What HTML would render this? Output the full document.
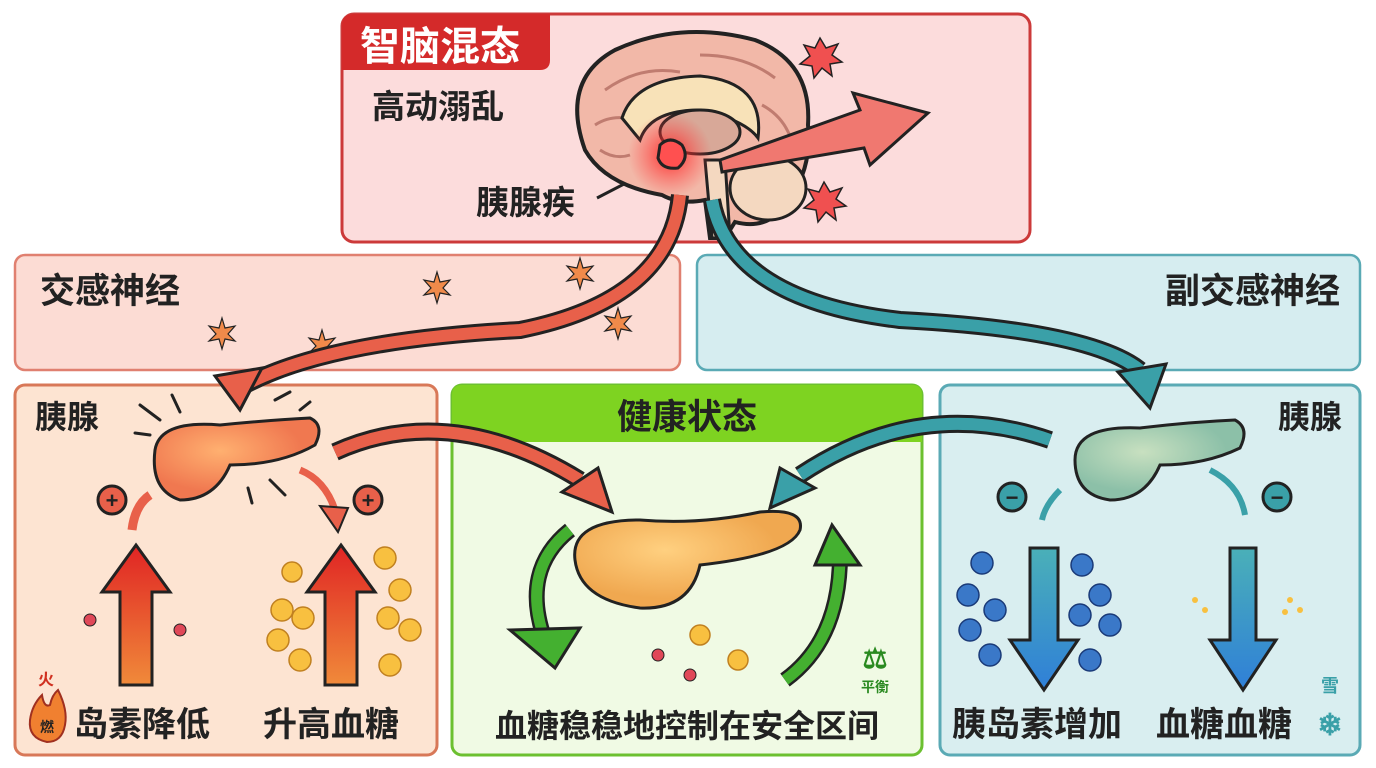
<!DOCTYPE html>
<html><head><meta charset="utf-8"><style>
html,body{margin:0;padding:0;background:#fff;}
svg{display:block;}
text{font-family:"Liberation Sans","Noto Sans CJK SC",sans-serif;font-weight:bold;}
</style></head><body>
<svg width="1376" height="768" viewBox="0 0 1376 768" xmlns="http://www.w3.org/2000/svg">
<defs>
<linearGradient id="upr" x1="0" y1="0" x2="0" y2="1"><stop offset="0" stop-color="#e02424"/><stop offset="1" stop-color="#f08a3a"/></linearGradient>
<linearGradient id="dnb" x1="0" y1="0" x2="0" y2="1"><stop offset="0" stop-color="#4ab0b8"/><stop offset="1" stop-color="#2f7fd8"/></linearGradient>
<radialGradient id="glow"><stop offset="0" stop-color="#ff2020" stop-opacity="0.9"/><stop offset="1" stop-color="#ff4040" stop-opacity="0"/></radialGradient>
<radialGradient id="pan1" cx="0.4" cy="0.4"><stop offset="0" stop-color="#ffb070"/><stop offset="1" stop-color="#f07850"/></radialGradient>
<radialGradient id="pan2" cx="0.4" cy="0.4"><stop offset="0" stop-color="#ffd080"/><stop offset="1" stop-color="#f0a850"/></radialGradient>
<radialGradient id="pan3" cx="0.4" cy="0.4"><stop offset="0" stop-color="#c8e0c0"/><stop offset="1" stop-color="#8cc0a8"/></radialGradient>
</defs>

<!-- top box -->
<rect x="342" y="14" width="688" height="228" rx="12" fill="#fcdcdc" stroke="#cc3a3a" stroke-width="3"/>
<path d="M342 26 Q342 14 354 14 L550 14 L550 60 Q550 70 540 70 L342 70 Z" fill="#d42a2a"/>
<text x="360" y="60" font-size="40" fill="#fff">智脑混态</text>
<text x="372" y="118" font-size="33" fill="#222">高动溺乱</text>
<text x="476" y="214" font-size="33" fill="#222">胰腺疾</text>
<line x1="597" y1="198" x2="655" y2="168" stroke="#222" stroke-width="3"/>

<!-- brain -->
<path d="M585 150 Q560 80 615 50 Q680 20 755 40 Q812 62 808 125 Q812 165 792 195 Q772 232 735 222 L725 238 L710 238 L705 200 Q680 205 662 195 Q605 185 585 150 Z" fill="#f2b8a8" stroke="#222" stroke-width="4"/>
<path d="M605 90 Q640 65 680 72 M700 55 Q745 55 775 78 M595 125 Q615 112 640 122 M762 105 Q790 120 795 155 M600 150 Q615 160 630 155" stroke="#c07c70" stroke-width="3" fill="none"/>
<path d="M622 118 Q635 78 700 76 Q765 82 758 138 Q745 120 700 110 Q650 110 640 140 Z" fill="#f8e2b8" stroke="#222" stroke-width="3"/>
<ellipse cx="700" cy="132" rx="40" ry="22" fill="#d8a898" stroke="#222" stroke-width="3"/>
<ellipse cx="768" cy="188" rx="38" ry="32" fill="#f4d8c0" stroke="#222" stroke-width="3"/>
<path d="M705 160 L725 160 L730 238 L712 238 Z" fill="#f4d8c0" stroke="#222" stroke-width="3"/>
<circle cx="670" cy="155" r="42" fill="url(#glow)"/>
<path d="M660 145 Q670 135 682 145 Q690 158 678 168 Q662 170 658 158 Z" fill="#ff5050" stroke="#222" stroke-width="3"/>
<path d="M720 160 L860 110 L853 93 L928 113 L870 165 L864 148 L722 172 Z" fill="#f07870" stroke="#222" stroke-width="3"/>
<polygon points="820,38 826,48 838,44 832,55 842,62 830,64 832,76 822,68 814,78 812,66 800,64 810,56 804,45 815,48" fill="#f05050" stroke="#222" stroke-width="1.5"/>
<polygon points="824,182 830,192 842,188 836,199 846,206 834,208 836,220 826,212 818,222 816,210 804,208 814,200 808,189 819,192" fill="#f05050" stroke="#222" stroke-width="1.5"/>

<!-- middle boxes -->
<rect x="15" y="255" width="665" height="115" rx="10" fill="#fcdcd4" stroke="#e08070" stroke-width="2.5"/>
<text x="40" y="303" font-size="35" fill="#222">交感神经</text>
<rect x="697" y="255" width="663" height="115" rx="10" fill="#d6edf0" stroke="#5aaab5" stroke-width="2.5"/>
<text x="1340" y="303" font-size="35" fill="#222" text-anchor="end">副交感神经</text>
<g fill="#f08a4a" stroke="#222" stroke-width="1.2">
<polygon points="437,272 440,282 450,280 443,288 450,295 440,293 437,303 434,293 424,295 431,288 424,280 434,282"/>
<polygon points="580,258 583,268 593,266 586,274 593,281 583,279 580,289 577,279 567,281 574,274 567,266 577,268"/>
<polygon points="618,308 621,318 631,316 624,324 631,331 621,329 618,339 615,329 605,331 612,324 605,316 615,318"/>
<polygon points="222,318 225,328 235,326 228,334 235,341 225,339 222,349 219,339 209,341 216,334 209,326 219,328"/>
<polygon points="322,330 325,340 335,338 328,346 335,353 325,351 322,361 319,351 309,353 316,346 309,338 319,340"/>
</g>

<!-- bottom boxes -->
<rect x="15" y="385" width="422" height="370" rx="10" fill="#fde4d2" stroke="#d87858" stroke-width="3"/>
<rect x="452" y="385" width="470" height="370" rx="10" fill="#f0fae4" stroke="#6cc030" stroke-width="3"/>
<path d="M452 395 Q452 385 462 385 L912 385 Q922 385 922 395 L922 442 L452 442 Z" fill="#7ed321"/>
<text x="687" y="429" font-size="35" fill="#222" text-anchor="middle">健康状态</text>
<rect x="940" y="385" width="420" height="370" rx="10" fill="#d9eef0" stroke="#5aaab5" stroke-width="3"/>

<!-- connector arrows -->
<path d="M680 195 Q670 300 520 330 Q330 340 245 385" fill="none" stroke="#222" stroke-width="18"/>
<path d="M680 195 Q670 300 520 330 Q330 340 245 385" fill="none" stroke="#e8604a" stroke-width="12"/>
<polygon points="215,376 262,368 240,410" fill="#e8604a" stroke="#222" stroke-width="3"/>
<path d="M712 200 Q730 300 900 320 Q1090 330 1140 370" fill="none" stroke="#222" stroke-width="18"/>
<path d="M712 200 Q730 300 900 320 Q1090 330 1140 370" fill="none" stroke="#3aa0a8" stroke-width="12"/>
<polygon points="1118,372 1166,364 1150,408" fill="#3aa0a8" stroke="#222" stroke-width="3"/>
<path d="M335 452 Q450 400 580 480" fill="none" stroke="#222" stroke-width="18"/>
<path d="M335 452 Q450 400 580 480" fill="none" stroke="#e8604a" stroke-width="12"/>
<polygon points="562,492 598,468 612,512" fill="#e8604a" stroke="#222" stroke-width="3"/>
<path d="M1050 440 Q920 395 800 475" fill="none" stroke="#222" stroke-width="18"/>
<path d="M1050 440 Q920 395 800 475" fill="none" stroke="#3aa0a8" stroke-width="12"/>
<polygon points="815,488 780,468 770,508" fill="#3aa0a8" stroke="#222" stroke-width="3"/>

<!-- left box content -->
<text x="35" y="428" font-size="32" fill="#222">胰腺</text>
<path d="M155 450 Q160 420 220 425 Q270 420 310 418 Q325 425 315 445 Q280 465 230 465 Q215 500 180 500 Q150 490 155 450 Z" fill="url(#pan1)" stroke="#222" stroke-width="3"/>
<g stroke="#222" stroke-width="3" stroke-linecap="round">
<line x1="140" y1="405" x2="160" y2="420"/><line x1="172" y1="395" x2="180" y2="412"/><line x1="135" y1="433" x2="150" y2="435"/>
<line x1="275" y1="400" x2="290" y2="392"/><line x1="300" y1="410" x2="310" y2="402"/><line x1="270" y1="480" x2="285" y2="495"/><line x1="248" y1="488" x2="252" y2="503"/>
</g>
<circle cx="112" cy="500" r="14" fill="#e8604a" stroke="#222" stroke-width="3"/>
<text x="112" y="508" font-size="22" fill="#222" text-anchor="middle">+</text>
<circle cx="368" cy="500" r="14" fill="#e8604a" stroke="#222" stroke-width="3"/>
<text x="368" y="508" font-size="22" fill="#222" text-anchor="middle">+</text>
<path d="M132 530 Q135 505 150 495" fill="none" stroke="#e8604a" stroke-width="9"/>
<path d="M300 470 Q325 480 335 510" fill="none" stroke="#e8604a" stroke-width="7"/>
<polygon points="320,506 348,508 338,532" fill="#e8604a" stroke="#222" stroke-width="2"/>
<polygon points="136,545 170,592 152,592 152,685 120,685 120,592 102,592" fill="url(#upr)" stroke="#222" stroke-width="3"/>
<polygon points="341,545 375,592 357,592 357,685 325,685 325,592 307,592" fill="url(#upr)" stroke="#222" stroke-width="3"/>
<g fill="#e04858" stroke="#222" stroke-width="1"><circle cx="90" cy="620" r="6"/><circle cx="180" cy="630" r="6"/></g>
<g fill="#f8c040" stroke="#c08020" stroke-width="1.5">
<circle cx="292" cy="572" r="10"/><circle cx="282" cy="610" r="11"/><circle cx="303" cy="618" r="11"/><circle cx="278" cy="640" r="11"/><circle cx="300" cy="660" r="11"/>
<circle cx="385" cy="558" r="11"/><circle cx="400" cy="590" r="11"/><circle cx="388" cy="618" r="11"/><circle cx="410" cy="630" r="11"/><circle cx="390" cy="665" r="11"/>
</g>
<text x="38" y="685" font-size="16" fill="#d03020">火</text>
<path d="M47 742 Q28 738 30 720 Q32 705 42 695 Q44 708 50 705 Q52 695 58 690 Q68 710 65 725 Q62 742 47 742 Z" fill="#f08030" stroke="#a03020" stroke-width="2"/>
<text x="47" y="732" font-size="14" fill="#222" text-anchor="middle">燃</text>
<text x="74" y="736" font-size="34" fill="#222">岛素降低</text>
<text x="263" y="736" font-size="34" fill="#222">升高血糖</text>

<!-- center content -->
<path d="M575 560 Q570 520 640 520 Q700 525 760 512 Q805 508 800 530 Q790 555 700 565 Q690 610 640 608 Q580 600 575 560 Z" fill="url(#pan2)" stroke="#222" stroke-width="3"/>
<path d="M570 530 Q520 570 545 640" fill="none" stroke="#222" stroke-width="16"/>
<path d="M570 530 Q520 570 545 640" fill="none" stroke="#44b030" stroke-width="11"/>
<polygon points="510,630 580,628 555,668" fill="#44b030" stroke="#222" stroke-width="3"/>
<path d="M785 680 Q840 640 840 555" fill="none" stroke="#222" stroke-width="16"/>
<path d="M785 680 Q840 640 840 555" fill="none" stroke="#44b030" stroke-width="11"/>
<polygon points="815,565 860,565 832,525" fill="#44b030" stroke="#222" stroke-width="3"/>
<g fill="#f8c040" stroke="#c08020" stroke-width="1.5"><circle cx="700" cy="635" r="10"/><circle cx="738" cy="660" r="10"/></g>
<g fill="#e04858" stroke="#222" stroke-width="1"><circle cx="658" cy="655" r="6"/><circle cx="690" cy="675" r="6"/></g>
<text x="875" y="668" font-size="28" fill="#2a8a20" text-anchor="middle">⚖</text>
<text x="875" y="692" font-size="14" fill="#2a8a20" text-anchor="middle">平衡</text>
<text x="687" y="737" font-size="32" fill="#222" text-anchor="middle">血糖稳稳地控制在安全区间</text>

<!-- right box content -->
<text x="1342" y="428" font-size="32" fill="#222" text-anchor="end">胰腺</text>
<path d="M1075 460 Q1075 425 1140 428 Q1190 422 1235 420 Q1250 428 1240 448 Q1205 465 1160 465 Q1145 500 1110 500 Q1075 495 1075 460 Z" fill="url(#pan3)" stroke="#222" stroke-width="3"/>
<circle cx="1012" cy="497" r="14" fill="#3aa0a8" stroke="#222" stroke-width="3"/>
<text x="1012" y="505" font-size="22" fill="#222" text-anchor="middle">−</text>
<circle cx="1277" cy="497" r="14" fill="#3aa0a8" stroke="#222" stroke-width="3"/>
<text x="1277" y="505" font-size="22" fill="#222" text-anchor="middle">−</text>
<path d="M1060 490 Q1045 505 1042 520" fill="none" stroke="#3aa0a8" stroke-width="6"/>
<path d="M1210 470 Q1240 485 1245 515" fill="none" stroke="#3aa0a8" stroke-width="6"/>
<polygon points="1030,548 1058,548 1058,640 1078,640 1044,690 1010,640 1030,640" fill="url(#dnb)" stroke="#222" stroke-width="3"/>
<polygon points="1230,548 1256,548 1256,640 1276,640 1243,690 1210,640 1230,640" fill="url(#dnb)" stroke="#222" stroke-width="3"/>
<g fill="#3a78c8" stroke="#1a3a78" stroke-width="1.5">
<circle cx="982" cy="563" r="11"/><circle cx="968" cy="595" r="11"/><circle cx="970" cy="630" r="11"/><circle cx="995" cy="610" r="11"/><circle cx="990" cy="655" r="11"/>
<circle cx="1082" cy="565" r="11"/><circle cx="1100" cy="595" r="11"/><circle cx="1080" cy="615" r="11"/><circle cx="1110" cy="625" r="11"/><circle cx="1090" cy="660" r="11"/>
</g>
<g fill="#f8c040"><circle cx="1195" cy="600" r="3"/><circle cx="1205" cy="610" r="3"/><circle cx="1290" cy="600" r="3"/><circle cx="1300" cy="610" r="3"/><circle cx="1285" cy="612" r="3"/></g>
<text x="1330" y="692" font-size="18" fill="#3aa0a8" text-anchor="middle">雪</text>
<text x="1330" y="735" font-size="30" fill="#3aa0a8" text-anchor="middle">❄</text>
<text x="952" y="736" font-size="34" fill="#222">胰岛素增加</text>
<text x="1156" y="736" font-size="34" fill="#222">血糖血糖</text>
</svg>
</body></html>
